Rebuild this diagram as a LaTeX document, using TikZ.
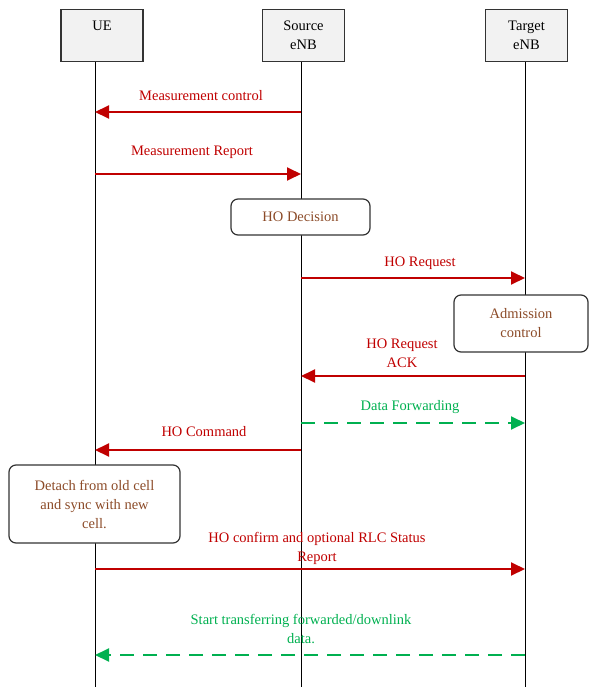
\documentclass[tikz,border=0pt]{standalone}
\usepackage{fontspec}
\setmainfont{Liberation Serif}
\usetikzlibrary{arrows.meta}

\definecolor{msgred}{RGB}{192,0,0}
\definecolor{msggreen}{RGB}{0,176,80}
\definecolor{notebrown}{RGB}{140,75,40}
\definecolor{boxgray}{RGB}{242,242,242}

\tikzset{
  entity/.style={draw=black!80, line width=1.1pt, fill=boxgray, minimum width=82pt,
    minimum height=52pt, inner sep=0pt, align=center, anchor=north},
  lifeline/.style={draw=black, line width=0.9pt},
  note/.style={draw=black!80, line width=1.2pt, rounded corners=7pt, fill=white,
    text=notebrown, align=center, inner sep=0pt},
  msg/.style={draw=msgred, line width=1.9pt, -{Triangle[length=14pt,width=13pt]}},
  fwd/.style={draw=msggreen, line width=1.9pt, dash pattern=on 14pt off 9pt,
    -{Triangle[length=14pt,width=13pt]}},
  redtext/.style={text=msgred, align=center},
  greentext/.style={text=msggreen, align=center},
}

\begin{document}
\begin{tikzpicture}[x=1pt, y=-1pt, every node/.style={font=\fontsize{14.5}{19}\selectfont}]
\useasboundingbox (0,0) rectangle (589,687);

% entities
\node[entity] (ue) at (102,9) {UE\\~};
\node[entity] (src) at (303.5,9) {Source\\eNB};
\node[entity] (tgt) at (526.5,9) {Target\\eNB};

% lifelines
\coordinate (ue-end) at (95,687);
\coordinate (src-end) at (301,687);
\coordinate (tgt-end) at (525,687);
\draw[lifeline] (ue.south -| ue-end) -- (ue-end);
\draw[lifeline] (src.south -| src-end) -- (src-end);
\draw[lifeline] (tgt.south -| tgt-end) -- (tgt-end);

% message levels on each lifeline
\foreach \n/\y in {1/112, 2/174, 3/278, 4/376, 5/423, 6/450, 7/569, 8/655} {
  \coordinate (ue\n) at (95,\y);
  \coordinate (src\n) at (301,\y);
  \coordinate (tgt\n) at (525,\y);
}

% messages
\draw[msg] (src1) -- (ue1);
\node[redtext] (mc) at (201,96) {Measurement control};

\draw[msg] (ue2) -- (src2);
\node[redtext] (mr) at (192,152) {Measurement Report};

\node[note, minimum width=139pt, minimum height=36pt] (decision) at (300.5,217) {HO Decision};

\draw[msg] (src3) -- (tgt3);
\node[redtext] (req) at (420,263) {HO Request};

\node[note, minimum width=134pt, minimum height=57pt] (admission) at (521,323.5) {Admission\\control};

\draw[msg] (tgt4) -- (src4);
\node[redtext] (ack) at (402,353.5) {HO Request\\ACK};

\draw[fwd] (src5) -- (tgt5);
\node[greentext] (dfwd) at (410,407) {Data Forwarding};

\draw[msg] (src6) -- (ue6);
\node[redtext] (cmd) at (204,432) {HO Command};

\node[note, minimum width=171pt, minimum height=78pt] (detach) at (94.5,504) {Detach from old cell\\and sync with new\\cell.};

\draw[msg] (ue7) -- (tgt7);
\node[redtext] (confirm) at (317,548) {HO confirm and optional RLC Status\\Report};

\draw[fwd] (tgt8) -- (ue8);
\node[greentext] (start) at (301,628.5) {Start transferring forwarded/downlink\\data.};

\end{tikzpicture}
\end{document}
